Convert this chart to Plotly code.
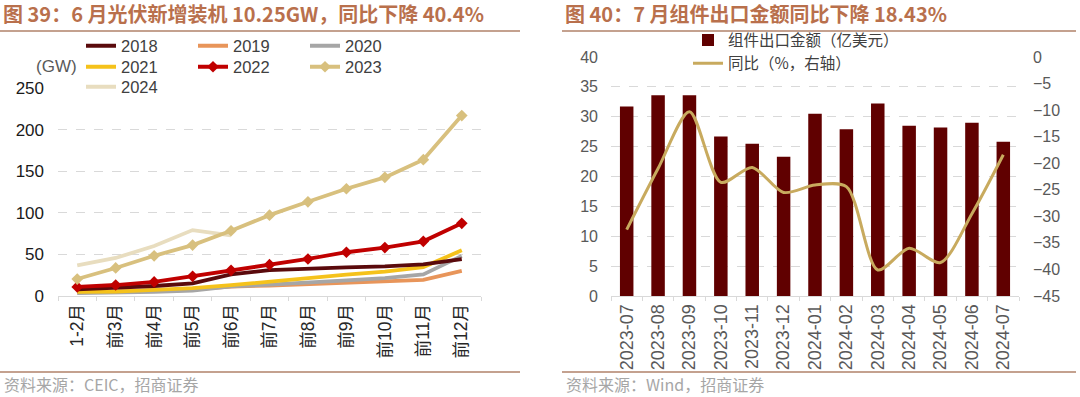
import plotly.graph_objects as go

# ---------------- data: left chart (cumulative PV installations, GW) ----------------
months = ["1-2月", "前3月", "前4月", "前5月", "前6月", "前7月", "前8月", "前9月", "前10月", "前11月", "前12月"]
y2018 = [8.0, 10.0, 12.0, 15.2, 26.0, 31.0, 33.0, 34.5, 35.5, 38.0, 44.3]
y2019 = [4.5, 5.2, 6.5, 8.0, 11.4, 12.5, 14.0, 16.0, 17.0, 19.5, 30.1]
y2020 = [3.4, 4.0, 5.0, 6.6, 11.5, 13.6, 15.7, 18.7, 21.5, 25.9, 48.2]
y2021 = [5.0, 5.3, 7.4, 9.5, 13.0, 17.5, 22.0, 25.6, 29.3, 34.8, 54.9]
y2022 = [10.9, 13.2, 16.9, 23.7, 30.9, 37.7, 44.5, 52.6, 58.2, 65.7, 87.4]
y2023 = [20.4, 33.7, 48.3, 61.2, 78.4, 97.2, 113.2, 128.9, 142.6, 163.9, 216.9]
y2024 = [36.7, 45.7, 60.1, 79.2, 73.0]

# ---------------- data: right chart (module exports) ----------------
ym = ["2023-07", "2023-08", "2023-09", "2023-10", "2023-11", "2023-12", "2024-01",
      "2024-02", "2024-03", "2024-04", "2024-05", "2024-06", "2024-07"]
export_val = [31.7, 33.6, 33.6, 26.7, 25.5, 23.3, 30.5, 27.9, 32.2, 28.5, 28.2, 29.0, 25.8]
yoy = [-32.5, -21.0, -10.3, -23.6, -20.8, -25.5, -24.1, -24.4, -40.1, -36.0, -38.7, -29.5, -18.4]

FONT = "Liberation Sans, Arial, Noto Sans CJK SC, sans-serif"
CJK = "Noto Sans CJK SC, Liberation Sans, sans-serif"
TITLE_C = "#B9704C"
RULE_C = "#B0826A"
GRID_C = "#D9D9D9"

fig = go.Figure()

series = {
    "2018": (y2018, "#5A0A0C", None, "legend", 1),
    "2019": (y2019, "#E8955A", None, "legend", 2),
    "2020": (y2020, "#A6A6A6", None, "legend", 3),
    "2021": (y2021, "#F5C21B", None, "legend2", 4),
    "2022": (y2022, "#C00000", "diamond", "legend2", 5),
    "2023": (y2023, "#D8C07E", "diamond", "legend2", 6),
    "2024": (y2024, "#E8DDBF", None, "legend3", 7),
}
draw_order = ["2024", "2019", "2020", "2021", "2018", "2022", "2023"]
for n in draw_order:
    ys, col, sym, lg, rank = series[n]
    fig.add_trace(go.Scatter(
        x=months[:len(ys)], y=ys, name=n, mode="lines+markers" if sym else "lines",
        line=dict(color=col, width=3.8),
        marker=dict(symbol=sym or "circle", size=9, color=col),
        xaxis="x", yaxis="y", legend=lg, legendrank=rank,
    ))

fig.add_trace(go.Bar(
    x=ym, y=export_val, name="组件出口金额（亿美元）", marker=dict(color="#600000", line=dict(width=0)),
    xaxis="x2", yaxis="y2", legend="legend4", legendrank=1,
))
fig.add_trace(go.Scatter(
    x=ym, y=yoy, name="同比（%，右轴）", mode="lines",
    line=dict(color="#C8AA5E", width=3, shape="spline", smoothing=0.8),
    xaxis="x2", yaxis="y3", legend="legend4", legendrank=2,
))

ydom_l = [101 / 397, 309 / 397]
ydom_r = [101 / 397, 340 / 397]

axis_common = dict(showline=True, linecolor=GRID_C, linewidth=1, zeroline=False, automargin=False)
leg_common = dict(orientation="h", bgcolor="rgba(0,0,0,0)", xanchor="left", yanchor="middle",
                  font=dict(family=FONT, size=16.5, color="#404040"),
                  entrywidth=67, entrywidthmode="pixels", tracegroupgap=0, itemwidth=30,
                  traceorder="normal")

fig.update_layout(
    width=1080, height=397, margin=dict(l=0, r=0, t=0, b=0, pad=0, autoexpand=False),
    paper_bgcolor="white", plot_bgcolor="white",
    font=dict(family=FONT, size=14, color="#333333"),
    bargap=0.57, showlegend=True,
    xaxis=dict(domain=[58 / 1080, 481 / 1080], type="category", anchor="y",
               tickangle=-90, tickson="boundaries", ticks="outside", ticklen=4, tickcolor=GRID_C,
               tickfont=dict(family=FONT, size=17.5, color="#262626"), showgrid=False,
               range=[-0.5, 10.5], **axis_common),
    yaxis=dict(domain=ydom_l, anchor="x", range=[0, 250], dtick=50, showgrid=True,
               gridcolor=GRID_C, griddash="dash", gridwidth=1, showline=False, zeroline=False,
               automargin=False,
               tickfont=dict(family=FONT, size=17, color="#1A1A1A"), ticklabelstandoff=13),
    xaxis2=dict(domain=[611 / 1080, 1019 / 1080], type="category", anchor="y2",
                tickangle=-90, tickson="boundaries", ticks="outside", ticklen=4, tickcolor=GRID_C,
                tickfont=dict(family=FONT, size=18, color="#595959"), showgrid=False,
                range=[-0.5, 12.5], **axis_common),
    yaxis2=dict(domain=ydom_r, anchor="x2", range=[0, 40], dtick=5, showgrid=True,
                gridcolor=GRID_C, griddash="dash", gridwidth=1, showline=False, zeroline=False,
                automargin=False,
                tickfont=dict(family=FONT, size=16, color="#595959"), ticklabelstandoff=12),
    yaxis3=dict(overlaying="y2", side="right", anchor="x2", range=[-45, 0], dtick=5,
                showgrid=False, showline=False, zeroline=False, automargin=False,
                tickfont=dict(family=FONT, size=16, color="#595959"), ticklabelstandoff=13),
    legend=dict(x=81 / 1080, y=1 - 46 / 397, **leg_common),
    legend2=dict(x=81 / 1080, y=1 - 67 / 397, **leg_common),
    legend3=dict(x=81 / 1080, y=1 - 87 / 397, **leg_common),
    legend4=dict(x=688 / 1080, y=1 - 52 / 397, xanchor="left", yanchor="middle",
                 orientation="v", bgcolor="rgba(0,0,0,0)", tracegroupgap=0,
                 font=dict(family=CJK, size=15.5, color="#404040"), traceorder="normal"),
)

# titles, rules and sources
fig.add_annotation(text="<b>图 39：6 月光伏新增装机 10.25GW，同比下降 40.4%</b>", x=1 / 1080, y=1 - 14 / 397,
                   xref="paper", yref="paper", xanchor="left", yanchor="middle", showarrow=False,
                   font=dict(family=CJK, size=20, color=TITLE_C))
fig.add_annotation(text="<b>图 40：7 月组件出口金额同比下降 18.43%</b>", x=563 / 1080, y=1 - 13 / 397,
                   xref="paper", yref="paper", xanchor="left", yanchor="middle", showarrow=False,
                   font=dict(family=CJK, size=20, color=TITLE_C))
fig.add_annotation(text="资料来源：CEIC，招商证券", x=2 / 1080, y=1 - 384 / 397,
                   xref="paper", yref="paper", xanchor="left", yanchor="middle", showarrow=False,
                   font=dict(family=CJK, size=16, color="#A6A6A6"))
fig.add_annotation(text="资料来源：Wind，招商证券", x=564 / 1080, y=1 - 384 / 397,
                   xref="paper", yref="paper", xanchor="left", yanchor="middle", showarrow=False,
                   font=dict(family=CJK, size=16, color="#A6A6A6"))
fig.add_annotation(text="(GW)", x=79 / 1080, y=1 - 67 / 397,
                   xref="paper", yref="paper", xanchor="right", yanchor="middle", showarrow=False,
                   font=dict(family=FONT, size=17, color="#595959"))

for (x0, x1) in [(0, 520), (562, 1076)]:
    for yy in [31, 372]:
        fig.add_shape(type="line", xref="paper", yref="paper", x0=x0 / 1080, x1=x1 / 1080,
                      y0=1 - yy / 397, y1=1 - yy / 397, line=dict(color=RULE_C, width=1.5))

fig.write_html("out.html", config={"displayModeBar": False},
               post_script="document.body.style.margin='0';document.body.style.overflow='hidden';")
